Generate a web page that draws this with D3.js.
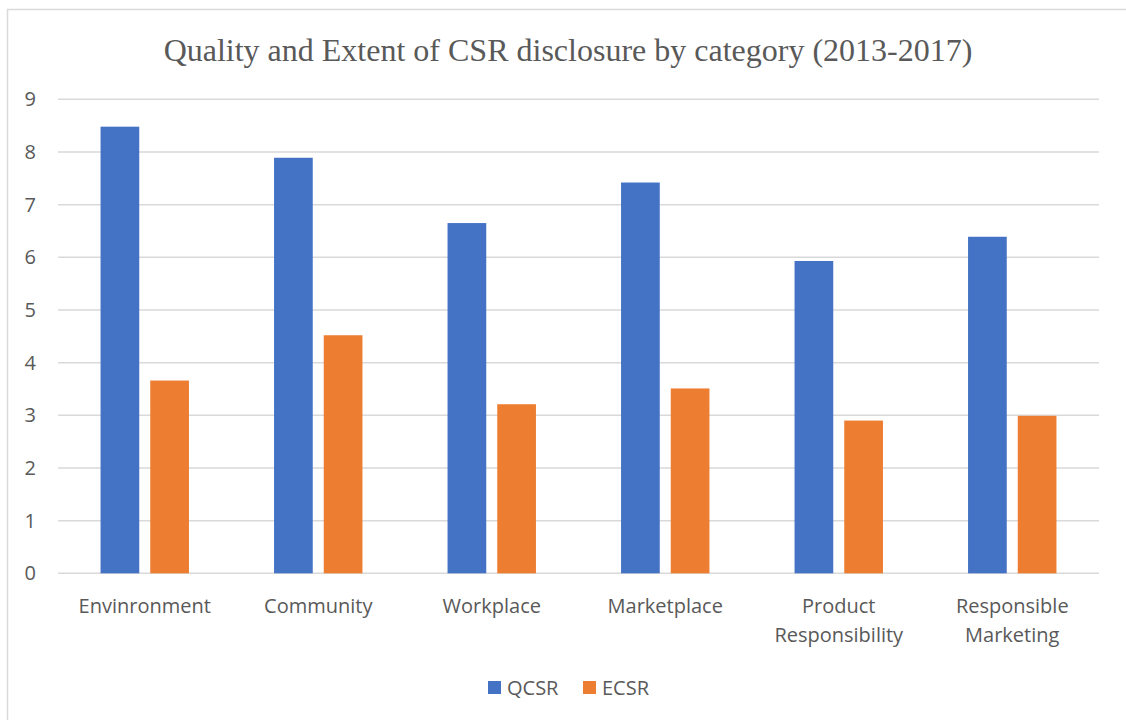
<!DOCTYPE html>
<html lang="en">
<head>
<meta charset="utf-8">
<title>CSR disclosure</title>
<script src="https://cdn.jsdelivr.net/npm/d3@7"></script>
<style>
  body { margin: 0; background: #fff; }
  .tick text { fill: #595959; }
</style>
</head>
<body>
<div id="chart"></div>
<script>
var categories = [["Envinronment"], ["Community"], ["Workplace"], ["Marketplace"],
                  ["Product", "Responsibility"], ["Responsible", "Marketing"]];
var series = ["QCSR", "ECSR"];
var qcsr = [8.48, 7.89, 6.65, 7.42, 5.93, 6.39];
var ecsr = [3.66, 4.52, 3.21, 3.51, 2.90, 2.99];
var yTicks = [0, 1, 2, 3, 4, 5, 6, 7, 8, 9];
var colors = ["#4472c4", "#ed7d31"];

var width = 1126, height = 720;
var margin = {left: 58, right: 27, top: 99.3, bottom: 146.7};
var sans = "'Open Sans', sans-serif";

var svg = d3.select("#chart").append("svg")
    .attr("width", width)
    .attr("height", height);

// outer chart frame
svg.append("rect")
    .attr("x", 7.5).attr("y", 9.5)
    .attr("width", 1140).attr("height", 740)
    .attr("fill", "none")
    .attr("stroke", "#d9d9d9")
    .attr("stroke-width", 1.5);

svg.append("text")
    .attr("x", 568).attr("y", 61)
    .attr("text-anchor", "middle")
    .attr("font-family", "'Liberation Serif', 'Times New Roman', serif")
    .attr("font-size", 32)
    .attr("fill", "#595959")
    .text("Quality and Extent of CSR disclosure by category (2013-2017)");

var x = d3.scaleBand()
    .domain(d3.range(categories.length))
    .range([margin.left, width - margin.right]);

var y = d3.scaleLinear()
    .domain([0, 9])
    .range([height - margin.bottom, margin.top]);

// gridlines
svg.append("g")
  .selectAll("line")
  .data(yTicks)
  .enter().append("line")
    .attr("x1", margin.left)
    .attr("x2", width - margin.right)
    .attr("y1", function(d) { return y(d); })
    .attr("y2", function(d) { return y(d); })
    .attr("stroke", "#d9d9d9")
    .attr("stroke-width", 1.5);

// y axis labels
var yAxis = svg.append("g")
    .attr("transform", "translate(" + margin.left + ",0)")
    .call(d3.axisLeft(y).tickValues(yTicks).tickSize(0).tickPadding(22));
yAxis.select(".domain").remove();
yAxis.selectAll("text")
    .attr("font-family", sans)
    .attr("font-size", 20);

var barW = 38.7, gap = 11;
var sub = d3.scaleOrdinal().domain(series).range([-gap / 2 - barW, gap / 2]);

var rows = categories.map(function(c, i) {
  return [{s: "QCSR", i: i, v: qcsr[i]}, {s: "ECSR", i: i, v: ecsr[i]}];
});

svg.append("g")
  .selectAll("g")
  .data(rows)
  .enter().append("g")
  .selectAll("rect")
  .data(function(d) { return d; })
  .enter().append("rect")
    .attr("x", function(d) { return x(d.i) + x.bandwidth() / 2 + sub(d.s); })
    .attr("y", function(d) { return y(d.v); })
    .attr("width", barW)
    .attr("height", function(d) { return y(0) - y(d.v); })
    .attr("fill", function(d) { return colors[series.indexOf(d.s)]; });

// category labels
var labels = svg.append("g")
  .selectAll("text")
  .data(categories)
  .enter().append("text")
    .attr("x", function(d, i) { return x(i) + x.bandwidth() / 2; })
    .attr("y", 613)
    .attr("text-anchor", "middle")
    .attr("font-family", sans)
    .attr("font-size", 20)
    .attr("fill", "#595959");
labels.selectAll("tspan")
  .data(function(d) { return d; })
  .enter().append("tspan")
    .attr("x", function() { return d3.select(this.parentNode).attr("x"); })
    .attr("dy", function(d, j) { return j === 0 ? 0 : 29; })
    .text(function(d) { return d; });

// legend
var legendX = [488, 583];
var legend = svg.append("g")
  .selectAll("g")
  .data(series)
  .enter().append("g")
    .attr("transform", function(d, i) { return "translate(" + legendX[i] + ",681)"; });
legend.append("rect")
    .attr("width", 13).attr("height", 13)
    .attr("fill", function(d, i) { return colors[i]; });
legend.append("text")
    .attr("x", 19).attr("y", 14)
    .attr("font-family", sans)
    .attr("font-size", 20)
    .attr("fill", "#595959")
    .text(function(d) { return d; });
</script>
</body>
</html>
